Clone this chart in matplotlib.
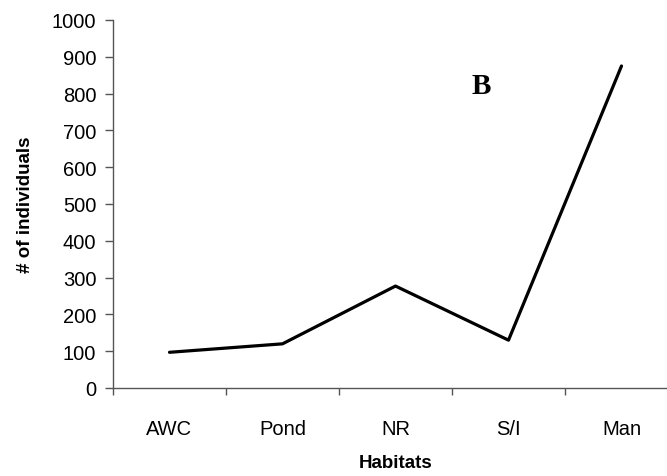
import matplotlib
matplotlib.use("Agg")
import matplotlib.pyplot as plt
import numpy as np

habitats = ["AWC", "Pond", "NR", "S/I", "Man"]
individuals = [97, 120, 277, 130, 875]

plt.rcParams['font.family'] = ['Liberation Sans', 'DejaVu Sans']

fig = plt.figure(figsize=(6.67, 4.77), dpi=100)
ax = fig.add_axes([0.1694, 0.1845, 0.8471, 0.7715])

x = np.arange(len(habitats))
ax.plot(x, individuals, color="black", linewidth=2.3, solid_capstyle="round")

ax.set_xlim(-0.5, len(habitats) - 0.5)
ax.set_ylim(0, 1000)
ax.set_yticks(np.arange(0, 1001, 100))
ax.set_xticks(x)
ax.set_xticklabels(habitats)
ax.set_xticks(np.arange(-0.5, len(habitats), 1), minor=True)

for s in ["top", "right"]:
    ax.spines[s].set_visible(False)
for s in ["left", "bottom"]:
    ax.spines[s].set_color("#555555")
    ax.spines[s].set_linewidth(1.0)

ax.tick_params(axis="y", direction="out", length=6, width=1, color="#555555",
               labelsize=14.5, pad=6)
ax.tick_params(axis="x", which="major", length=0, labelsize=14.5, pad=22)
ax.tick_params(axis="x", which="minor", direction="out", length=5, width=1,
               color="#555555")

ax.set_xlabel("Habitats", fontsize=13.5, fontweight="bold", labelpad=12)
ax.set_ylabel("# of individuals", fontsize=13.5, fontweight="bold", labelpad=13)

# panel letter
ax.text(2.76, 822, "B", fontsize=21, fontweight="bold", family="Liberation Serif",
        ha="center", va="center")

fig.savefig("out.png", dpi=100)
